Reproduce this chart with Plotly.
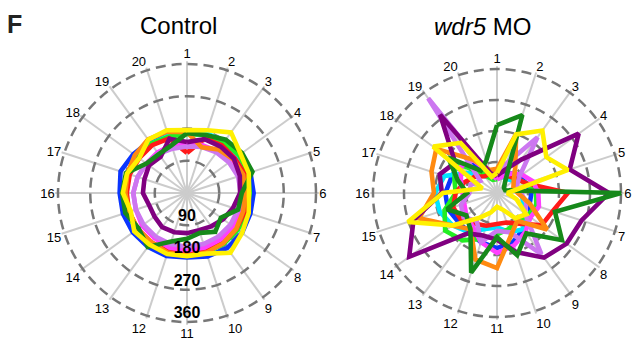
import plotly.graph_objects as go

spokes = [str(i) for i in range(1, 21)]
ring_vals = [90, 180, 270, 360]
ring_labels = ["90", "180", "270", "360"]

series_names = ["blue", "cyan", "lime", "red", "magenta", "lavender", "orange", "purple", "green", "yellow"]
colors = {
    "blue": "#0a35ff", "cyan": "#00e6ff", "lime": "#22ee22", "red": "#ff1a1a",
    "magenta": "#ff40ff", "lavender": "#cc77f0", "orange": "#ff8a10",
    "purple": "#800080", "green": "#16891a", "yellow": "#fff000",
}

control = {
    "blue":     [168, 172, 178, 182, 186, 186, 186, 190, 190, 186, 180, 185, 186, 187, 188, 188, 195, 185, 178, 168],
    "cyan":     [170, 175, 178, 172, 170, 170, 170, 175, 175, 175, 175, 175, 175, 175, 175, 170, 170, 170, 170, 168],
    "lime":     [165, 170, 175, 180, 180, 175, 175, 175, 175, 175, 175, 175, 175, 175, 175, 175, 175, 175, 170, 165],
    "red":      [112, 160, 165, 165, 170, 170, 170, 170, 170, 170, 170, 170, 170, 170, 170, 168, 168, 165, 165, 160],
    "magenta":  [140, 140, 145, 150, 155, 160, 160, 160, 160, 160, 160, 160, 155, 155, 150, 150, 145, 140, 140, 140],
    "lavender": [130, 135, 140, 145, 150, 150, 150, 150, 150, 150, 150, 150, 150, 150, 150, 150, 145, 140, 135, 130],
    "orange":   [170, 134, 150, 160, 165, 162, 165, 170, 173, 175, 175, 175, 170, 170, 170, 172, 175, 180, 185, 180],
    "purple":   [142, 158, 160, 162, 155, 148, 135, 125, 115, 109, 112, 115, 118, 112, 111, 123, 125, 131, 125, 159],
    "green":    [167, 170, 184, 190, 192, 153, 150, 117, 134, 117, 128, 142, 186, 167, 181, 181, 179, 140, 134, 140],
    "yellow":   [176, 184, 209, 185, 181, 173, 181, 190, 206, 178, 176, 179, 178, 182, 165, 179, 176, 165, 184, 184],
}

wdr5 = {
    "blue":     [50, 60, 70, 80, 90, 100, 100, 120, 130, 150, 160, 150, 140, 140, 150, 150, 140, 140, 100, 60],
    "cyan":     [50, 50, 50, 60, 60, 70, 80, 100, 130, 120, 100, 110, 140, 160, 175, 180, 160, 100, 60, 50],
    "lime":     [40, 50, 60, 70, 90, 113, 120, 110, 100, 110, 120, 140, 170, 186, 160, 120, 130, 150, 70, 40],
    "red":      [70, 80, 60, 70, 90, 206, 170, 160, 110, 90, 90, 100, 110, 130, 134, 120, 100, 80, 60, 60],
    "magenta":  [40, 50, 70, 90, 110, 120, 128, 120, 140, 160, 174, 150, 120, 110, 100, 100, 110, 130, 120, 60],
    "lavender": [60, 90, 200, 80, 60, 70, 90, 100, 219, 120, 110, 150, 100, 120, 110, 80, 80, 60, 340, 50],
    "orange":   [70, 180, 90, 60, 50, 60, 100, 180, 100, 130, 218, 203, 130, 160, 238, 183, 200, 218, 120, 70],
    "purple":   [50, 70, 120, 293, 222, 325, 258, 250, 232, 180, 136, 130, 145, 315, 255, 160, 175, 150, 281, 60],
    "green":    [197, 238, 40, 25, 25, 360, 177, 233, 145, 190, 128, 243, 131, 110, 153, 87, 120, 175, 80, 100],
    "yellow":   [58, 179, 224, 177, 217, 30, 60, 105, 90, 50, 40, 60, 90, 160, 272, 157, 45, 229, 180, 50],
}

R_MAX = 368

fig = go.Figure()

for subplot, data in (("polar", control), ("polar2", wdr5)):
    for name in series_names:
        vals = data[name]
        fig.add_trace(go.Scatterpolar(
            r=vals + vals[:1], theta=spokes + spokes[:1], mode="lines",
            line=dict(color=colors[name], width=4.6),
            subplot=subplot, showlegend=False, hoverinfo="skip",
        ))

# radial scale labels on the left chart (placed just inside each ring, along spoke 11)
fig.add_trace(go.Scatterpolar(
    r=[v - 23 for v in ring_vals], theta=["11"] * len(ring_vals), mode="text",
    text=["<b>%s</b>" % t for t in ring_labels],
    textfont=dict(size=16, color="black", family="Liberation Sans"),
    subplot="polar", showlegend=False, hoverinfo="skip",
))

def polar_layout(xdom, ydom):
    return dict(
        domain=dict(x=xdom, y=ydom),
        bgcolor="white",
        angularaxis=dict(
            type="category", categoryarray=spokes, rotation=90, direction="clockwise",
            showgrid=True, gridcolor="#cccccc", gridwidth=2,
            showline=False, ticks="", tickfont=dict(size=13, color="black", family="Liberation Sans"),
        ),
        radialaxis=dict(
            range=[0, R_MAX], tickvals=ring_vals, showticklabels=False,
            showgrid=True, gridcolor="#777777", gridwidth=2.5, griddash="10px,6px",
            showline=False, ticks="",
        ),
    )

W, H = 633, 343
def dom(cx, cy, r360):
    R = r360 * R_MAX / 360.0
    return [(cx - R) / W, (cx + R) / W], [(H - cy - R) / H, (H - cy + R) / H]

x1, y1 = dom(187, 193, 129)
x2, y2 = dom(497, 193, 124)

fig.update_layout(
    width=W, height=H, margin=dict(l=0, r=0, t=0, b=0),
    paper_bgcolor="white", plot_bgcolor="white",
    font=dict(family="Liberation Sans", color="black"),
    polar=polar_layout(x1, y1),
    polar2=polar_layout(x2, y2),
    showlegend=False,
    annotations=[
        dict(text="<b>F</b>", x=15 / W, y=1 - 24 / H, xref="paper", yref="paper",
             showarrow=False, font=dict(size=25, color="#222222"), xanchor="center", yanchor="middle"),
        dict(text="Control", x=178 / W, y=1 - 25 / H, xref="paper", yref="paper",
             showarrow=False, font=dict(size=24), xanchor="center", yanchor="middle"),
        dict(text="<i>wdr5</i> MO", x=482 / W, y=1 - 26 / H, xref="paper", yref="paper",
             showarrow=False, font=dict(size=24), xanchor="center", yanchor="middle"),
    ],
)

fig.write_html(
    "out.html",
    config={"displayModeBar": False, "staticPlot": True},
    post_script="document.body.style.margin='0';document.body.style.overflow='hidden';",
)
